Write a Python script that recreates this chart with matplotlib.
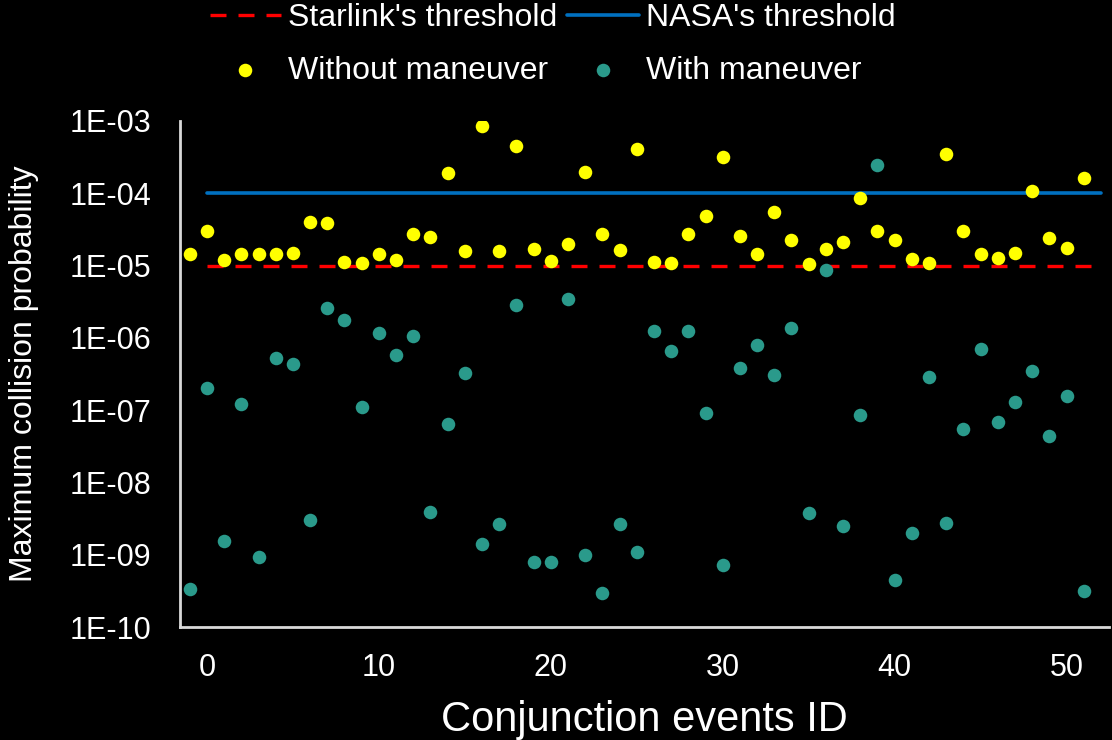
import matplotlib
matplotlib.use("Agg")
import matplotlib.pyplot as plt
from matplotlib.ticker import FixedLocator, FuncFormatter, NullLocator
import numpy as np

plt.rcParams['font.family'] = ['Liberation Sans', 'DejaVu Sans']

# conjunction event ids
event_id = list(range(-1, 52))

# maximum collision probability without maneuver
p_without = [1.46e-5, 3.05e-5, 1.18e-5, 1.43e-5, 1.46e-5, 1.43e-5, 1.51e-5, 4.0e-5,
             3.9e-5, 1.13e-5, 1.10e-5, 1.43e-5, 1.21e-5, 2.73e-5, 2.52e-5, 1.9e-4,
             1.57e-5, 8.4e-4, 1.61e-5, 4.58e-4, 1.68e-5, 1.16e-5, 2.0e-5, 1.99e-4,
             2.73e-5, 1.65e-5, 4.11e-4, 1.13e-5, 1.08e-5, 2.73e-5, 4.83e-5, 3.15e-4,
             2.58e-5, 1.43e-5, 5.57e-5, 2.24e-5, 1.04e-5, 1.72e-5, 2.14e-5, 8.7e-5,
             2.98e-5, 2.24e-5, 1.24e-5, 1.08e-5, 3.44e-4, 2.98e-5, 1.43e-5, 1.26e-5,
             1.51e-5, 1.09e-4, 2.39e-5, 1.74e-5, 1.61e-4]

# maximum collision probability with maneuver
p_with = [3.4e-10, 2.04e-7, 1.56e-9, 1.23e-7, 9.4e-10, 5.2e-7, 4.4e-7, 3.0e-9,
          2.58e-6, 1.75e-6, 1.11e-7, 1.18e-6, 5.7e-7, 1.07e-6, 3.9e-9, 6.5e-8,
          3.3e-7, 1.41e-9, 2.69e-9, 2.87e-6, 7.96e-10, 7.96e-10, 3.5e-6, 9.9e-10,
          2.93e-10, 2.69e-9, 1.08e-9, 1.26e-6, 6.5e-7, 1.26e-6, 9.2e-8, 7.3e-10,
          3.86e-7, 7.9e-7, 3.09e-7, 1.38e-6, 3.83e-9, 8.8e-6, 2.5e-9, 8.7e-8,
          2.45e-4, 4.4e-10, 1.98e-9, 2.83e-7, 2.75e-9, 5.5e-8, 6.97e-7, 6.95e-8,
          1.29e-7, 3.49e-7, 4.43e-8, 1.57e-7, 3.1e-10]

# thresholds
threshold_x = [0, 52]
starlink_thr = 1e-5
nasa_thr = 1e-4

y_ticks = [1e-10, 1e-9, 1e-8, 1e-7, 1e-6, 1e-5, 1e-4, 1e-3]
x_ticks = [0, 10, 20, 30, 40, 50]

fig = plt.figure(figsize=(11.12, 7.4), dpi=100, facecolor='black')
ax = fig.add_axes([0.162, 0.1527, 0.835, 0.6838])
ax.set_facecolor('black')

l_star, = ax.plot(threshold_x, [starlink_thr] * 2, color='#FF0000', lw=2.4,
                  dashes=(4.8, 3.6), zorder=2, label="Starlink's threshold")
l_nasa, = ax.plot(threshold_x, [nasa_thr] * 2, color='#0070C0', lw=2.6,
                  zorder=2, label="NASA's threshold", solid_capstyle='round')
s_wo = ax.scatter(event_id, p_without, s=95, color='#FFFF00', zorder=4,
                  linewidths=0, label='Without maneuver')
s_w = ax.scatter(event_id, p_with, s=95, color='#2A9A8B', zorder=3,
                 linewidths=0, label='With maneuver')

ax.set_yscale('log')
ax.set_ylim(1e-10, 1e-3)
ax.set_xlim(-1.56, 52.45)
ax.yaxis.set_major_locator(FixedLocator(y_ticks))
ax.yaxis.set_minor_locator(NullLocator())
ax.yaxis.set_major_formatter(FuncFormatter(lambda v, p: "1E-%02d" % round(-np.log10(v))))
ax.set_xticks(x_ticks)

for side in ['top', 'right']:
    ax.spines[side].set_visible(False)
for side in ['left', 'bottom']:
    ax.spines[side].set_color('#D9D9D9')
    ax.spines[side].set_linewidth(2)

ax.tick_params(axis='x', length=0, pad=19, labelsize=22, colors='white')
ax.tick_params(axis='y', length=0, pad=21, labelsize=22, colors='white')

ax.set_xlabel('Conjunction events ID', fontsize=30, color='white', labelpad=12)
ax.set_ylabel('Maximum collision probability', fontsize=23, color='white', labelpad=22)

leg = fig.legend([l_star, s_wo, l_nasa, s_w],
                 ["Starlink's threshold", 'Without maneuver', "NASA's threshold", 'With maneuver'],
                 loc='upper center', bbox_to_anchor=(0.497, 1.035), ncol=2, frameon=False,
                 fontsize=23, labelcolor='white', handlelength=2.25, handletextpad=0.22,
                 columnspacing=0.3, labelspacing=0.72, scatterpoints=1)

fig.savefig('out.png', dpi=100, facecolor='black')
